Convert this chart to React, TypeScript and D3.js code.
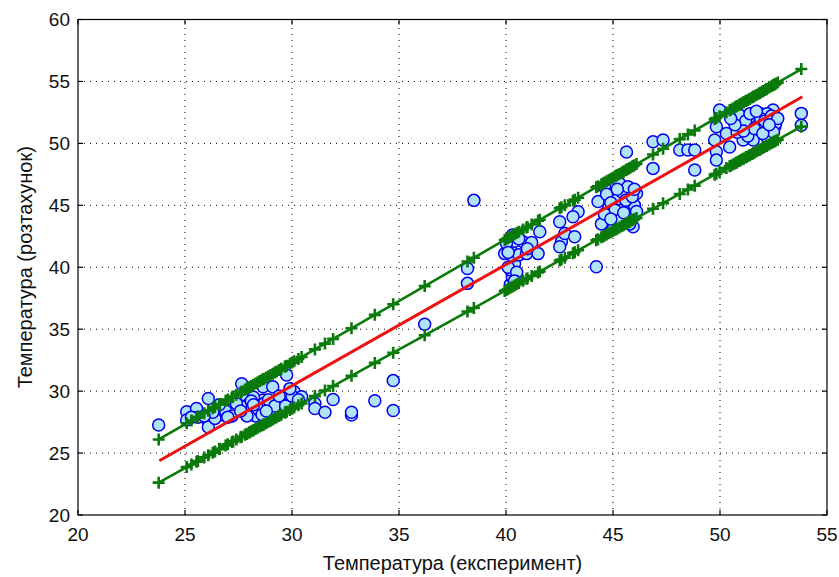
import React from "react";
import * as d3 from "d3";

// Measured temperature (x) and calculated temperature (y)
const tempExp: number[] = [
  23.77, 25.08, 25.08, 25.54, 26.09, 26.09, 26.09, 26.63, 27.25, 27.65, 27.88, 28.03, 28.19, 28.65, 28.8, 28.65,
  29.1, 29.28, 29.67, 29.75, 29.9, 30.1, 30.45, 31.07, 31.07, 31.54, 31.92, 32.78, 32.78, 33.87, 34.73, 34.73,
  27.8, 28.0, 28.3, 28.5, 28.7, 29.0, 26.4, 26.9, 27.2, 25.6, 26.6, 29.5, 28.2,
  27.6, 27.9, 28.1, 28.4, 28.6, 28.9, 29.2, 29.4, 29.7, 30.0, 27.4, 27.0, 26.3, 25.9, 25.3, 28.2, 28.8, 29.9, 30.3, 27.6,
  36.2,
  38.2, 38.2, 38.5,
  40.2, 40.3, 40.2, 40.4, 40.3, 40.2, 40.4, 40.3, 40.6, 40.1, 39.94, 40.02, 40.8, 40.96,
  40.5, 40.1, 40.6, 40.4,
  41.58, 41.5, 41.2, 41.0,
  42.51, 42.59, 42.75, 42.51, 43.21, 43.37, 43.13,
  44.22, 44.3, 44.53, 45.0, 45.16, 45.47, 45.78, 45.94, 45.63, 44.46, 45.78, 44.6, 45.3, 46.1, 45.63,
  45.0, 45.3, 45.5, 45.8, 46.0, 45.2, 44.8, 45.6,
  44.7, 44.9, 45.1, 45.4, 45.6, 45.9, 46.1, 44.6, 45.3, 45.7, 45.2, 46.0, 44.9, 45.5,
  46.87, 47.34, 46.87, 48.12, 48.5, 48.82, 48.82,
  49.98, 49.83, 49.75, 49.83, 49.83, 50.3, 50.45, 50.76, 50.92, 51.23, 51.39, 51.7, 51.86, 52.01, 52.17,
  52.48, 52.48, 52.56, 51.55, 51.08, 50.6,
  51.0, 51.5, 52.0, 52.3, 51.8, 50.8, 52.2, 51.3,
  50.9, 51.2, 51.4, 51.6, 51.9, 52.1, 52.4, 52.6, 52.7, 52.5, 51.1, 50.7, 52.0, 51.7, 52.3, 50.5,
  53.8, 53.8,
];
const tempCalc: number[] = [
  27.26, 28.34, 27.67, 28.6, 29.4, 27.5, 27.1, 28.07, 28.6, 30.6, 29.3, 28.74, 28.2, 29.28, 28.7, 30.36,
  30.36, 28.6, 29.55, 31.3, 29.0, 29.95, 29.55, 29.0, 28.6, 28.3, 29.33, 28.07, 28.3, 29.23, 30.85, 28.43,
  28.3, 29.0, 28.0, 28.4, 29.0, 28.2, 27.8, 28.4, 28.0, 27.9, 28.9, 28.4, 29.5,
  28.8, 28.0, 29.2, 28.6, 28.1, 29.3, 28.8, 29.6, 28.8, 29.6, 29.0, 27.9, 28.3, 28.0, 27.9, 28.9, 28.4, 30.2, 29.3, 28.4,
  35.4,
  39.9, 38.7, 45.4,
  38.6, 39.2, 39.8, 40.3, 40.9, 41.5, 42.1, 42.6, 41.0, 40.0, 41.1, 41.93, 42.06, 41.1,
  39.6, 41.2, 42.3, 38.9,
  42.87, 41.1, 42.0, 41.5,
  43.67, 42.06, 42.73, 41.65, 42.46, 44.48, 44.08,
  40.04, 45.3, 43.54, 44.35, 45.15, 45.69, 44.62, 43.27, 49.3, 43.5, 43.5, 46.5, 46.77, 45.96, 44.88,
  45.8, 44.2, 45.0, 46.2, 45.0, 45.5, 44.8, 44.1,
  45.9, 45.2, 44.6, 46.1, 45.4, 45.7, 44.5, 44.3, 43.8, 46.5, 46.3, 46.3, 43.9, 44.4,
  50.13, 50.27, 47.98, 49.46, 49.46, 49.46, 47.85,
  52.69, 51.34, 50.27, 49.33, 48.65, 50.8, 49.7, 51.88, 51.07, 52.15, 51.34, 50.8, 52.42, 51.61, 50.54,
  52.69, 51.88, 51.34, 50.27, 50.27, 52.42,
  51.6, 52.0, 52.1, 51.2, 51.5, 50.9, 52.4, 50.6,
  52.3, 51.8, 52.4, 51.2, 52.0, 51.8, 52.2, 51.6, 52.0, 50.9, 51.0, 51.5, 50.8, 52.6, 51.5, 52.0,
  52.42, 51.47,
];

// Regression line and band end points
const fitX: number[] = [23.8, 53.85];
const fitY: number[] = [24.38, 53.76];
const upperY: number[] = [26.13, 56.05];
const lowerY: number[] = [22.64, 51.4];

const xTicks: number[] = [20, 25, 30, 35, 40, 45, 50, 55];
const yTicks: number[] = [20, 25, 30, 35, 40, 45, 50, 55, 60];

const xLabel = "Температура (експеримент)";
const yLabel = "Температура (розтахунок)";

const W = 839;
const H = 577;
const FONT = "'Liberation Sans', Arial, sans-serif";

export default function App() {
  React.useEffect(() => {
    document.body.style.margin = "0";
  }, []);

  const x = d3.scaleLinear().domain([20, 55]).range([78, 827]);
  const y = d3.scaleLinear().domain([20, 60]).range([515, 19.5]);

  const upper = d3.scaleLinear().domain(fitX).range(upperY);
  const lower = d3.scaleLinear().domain(fitX).range(lowerY);

  const bandX = Array.from(new Set(tempExp)).sort((a, b) => a - b);
  const line = d3
    .line<[number, number]>()
    .x((d) => x(d[0]))
    .y((d) => y(d[1]));

  const upperPts: [number, number][] = bandX.map((v) => [v, upper(v)]);
  const lowerPts: [number, number][] = bandX.map((v) => [v, lower(v)]);
  const fitPts: [number, number][] = fitX.map((v, i) => [v, fitY[i]]);

  const [x0, x1] = x.range();
  const [y0, y1] = y.range();
  const tick = 5;
  const green = "#0a7a0a";
  const m = 6;

  const plus = (pts: [number, number][], key: string) =>
    pts.map((p, i) => {
      const cx = x(p[0]);
      const cy = y(p[1]);
      return (
        <path
          key={key + i}
          d={`M${cx - m},${cy}H${cx + m}M${cx},${cy - m}V${cy + m}`}
          stroke={green}
          strokeWidth={2.6}
          fill="none"
        />
      );
    });

  return (
    <svg
      width={W}
      height={H}
      style={{ position: "absolute", left: 0, top: 0, display: "block", background: "#fff" }}
    >
      <rect x={0} y={0} width={W} height={H} fill="#fff" />
      {/* grid */}
      <g stroke="#000" strokeWidth={1} strokeDasharray="1,5">
        {xTicks.slice(1, -1).map((t) => (
          <line key={"gx" + t} x1={x(t)} x2={x(t)} y1={y0} y2={y1} />
        ))}
        {yTicks.slice(1, -1).map((t) => (
          <line key={"gy" + t} x1={x0} x2={x1} y1={y(t)} y2={y(t)} />
        ))}
      </g>

      {/* data points */}
      <g>
        {tempExp.map((v, i) => (
          <circle
            key={"p" + i}
            cx={x(v)}
            cy={y(tempCalc[i])}
            r={6}
            fill="#b0e2f8"
            stroke="#0000ee"
            strokeWidth={1.5}
          />
        ))}
      </g>

      {/* bands */}
      <path d={line(upperPts) || ""} stroke={green} strokeWidth={2.6} fill="none" />
      <path d={line(lowerPts) || ""} stroke={green} strokeWidth={2.6} fill="none" />
      {plus(upperPts, "u")}
      {plus(lowerPts, "l")}

      {/* fit */}
      <path d={line(fitPts) || ""} stroke="#ee1111" strokeWidth={3} fill="none" />

      {/* axes box and ticks */}
      <rect x={x0} y={y1} width={x1 - x0} height={y0 - y1} fill="none" stroke="#000" strokeWidth={1.2} />
      <g stroke="#000" strokeWidth={1.2}>
        {xTicks.map((t) => (
          <g key={"tx" + t}>
            <line x1={x(t)} x2={x(t)} y1={y0} y2={y0 - tick} />
            <line x1={x(t)} x2={x(t)} y1={y1} y2={y1 + tick} />
          </g>
        ))}
        {yTicks.map((t) => (
          <g key={"ty" + t}>
            <line x1={x0} x2={x0 + tick} y1={y(t)} y2={y(t)} />
            <line x1={x1} x2={x1 - tick} y1={y(t)} y2={y(t)} />
          </g>
        ))}
      </g>

      {/* tick labels */}
      <g fontFamily={FONT} fontSize={19} fill="#111">
        {xTicks.map((t) => (
          <text key={"lx" + t} x={x(t)} y={541} textAnchor="middle">
            {t}
          </text>
        ))}
        {yTicks.map((t) => (
          <text key={"ly" + t} x={70} y={y(t)} textAnchor="end" dominantBaseline="central">
            {t}
          </text>
        ))}
      </g>

      {/* axis titles */}
      <text x={(x0 + x1) / 2} y={570} textAnchor="middle" fontFamily={FONT} fontSize={20} fill="#111">
        {xLabel}
      </text>
      <text
        transform={`translate(32,${(y0 + y1) / 2}) rotate(-90)`}
        textAnchor="middle"
        fontFamily={FONT}
        fontSize={20}
        fill="#111"
      >
        {yLabel}
      </text>
    </svg>
  );
}
